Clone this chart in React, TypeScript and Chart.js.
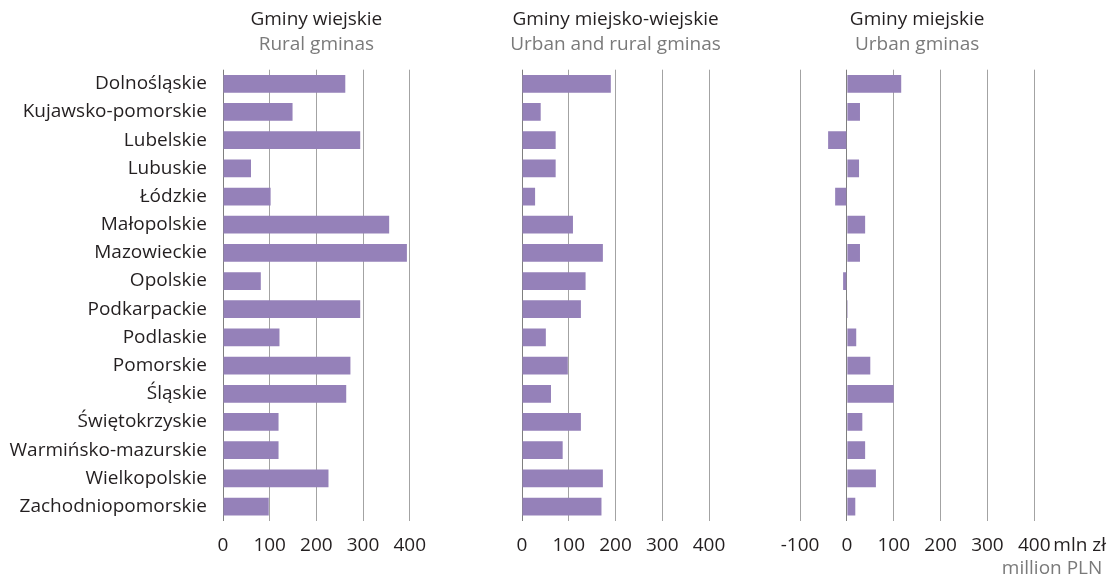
import React, { useEffect, useRef } from 'react';
import { Chart, registerables } from 'chart.js';

Chart.register(...registerables);

const FONT = "'Open Sans', 'Noto Sans', sans-serif";
Chart.defaults.font.family = FONT;

// ---- data ----
const regions = [
  'Dolnośląskie',
  'Kujawsko-pomorskie',
  'Lubelskie',
  'Lubuskie',
  'Łódzkie',
  'Małopolskie',
  'Mazowieckie',
  'Opolskie',
  'Podkarpackie',
  'Podlaskie',
  'Pomorskie',
  'Śląskie',
  'Świętokrzyskie',
  'Warmińsko-mazurskie',
  'Wielkopolskie',
  'Zachodniopomorskie',
];

const ruralValues = [262, 149, 294, 60, 102, 356, 394, 81, 294, 121, 273, 264, 119, 119, 226, 98];
const urbanRuralValues = [190, 40, 72, 72, 28, 109, 173, 136, 126, 51, 98, 62, 126, 87, 173, 170];
const urbanValues = [116, 28, -40, 26, -25, 39, 28, -8, 2, 20, 50, 100, 33, 39, 62, 18];

const panelTitles = ['Gminy wiejskie', 'Gminy miejsko-wiejskie', 'Gminy miejskie'];
const panelSubtitles = ['Rural gminas', 'Urban and rural gminas', 'Urban gminas'];
const axisMins = [0, 0, -100];
const axisMaxs = [400, 400, 400];
const tickStep = 100;
const unitLabel = 'mln zł';
const unitLabelEn = 'million PLN';

const BAR = '#9581b9';
const TEXT = '#231f20';
const SUBTEXT = '#7a7a7a';
const FS = 19;

// Panel titles drawn centred over each plot area (no width compression)
const titlePlugin = {
  id: 'panelTitles',
  afterDraw(chart: any, _args: any, opts: any) {
    if (!opts) return;
    const { ctx, chartArea } = chart;
    const cx = (chartArea.left + chartArea.right) / 2;
    ctx.save();
    ctx.textAlign = 'center';
    ctx.textBaseline = 'middle';
    ctx.font = `${FS}px ${FONT}`;
    ctx.fillStyle = TEXT;
    ctx.fillText(opts.title, cx, chartArea.top - 49.7);
    ctx.fillStyle = SUBTEXT;
    ctx.fillText(opts.subtitle, cx, chartArea.top - 24.7);
    ctx.restore();
  },
};

const unitPlugin = {
  id: 'unitLabels',
  afterDraw(chart: any, _args: any, opts: any) {
    if (!opts || !opts.show) return;
    const xs = chart.scales.x;
    const ctx = chart.ctx;
    const p = xs.getPixelForValue(axisMaxs[2]);
    ctx.save();
    ctx.textBaseline = 'middle';
    ctx.font = `${FS}px ${FONT}`;
    ctx.fillStyle = TEXT;
    ctx.textAlign = 'left';
    ctx.fillText(unitLabel, p + 19, xs.top + 25.4);
    ctx.fillStyle = SUBTEXT;
    ctx.textAlign = 'right';
    ctx.fillText(unitLabelEn, p + 68, xs.top + 48);
    ctx.restore();
  },
};

type PanelProps = {
  idx: number;
  left: number;
  width: number;
  padLeft: number;
  padRight: number;
  yWidth: number;
  showLabels: boolean;
  values: number[];
  showUnit: boolean;
};

function Panel(props: PanelProps) {
  const ref = useRef<HTMLCanvasElement | null>(null);
  useEffect(() => {
    if (!ref.current) return;
    const chart = new Chart(ref.current, {
      type: 'bar',
      data: {
        labels: regions,
        datasets: [
          {
            data: props.values,
            backgroundColor: BAR,
            barPercentage: 0.63,
            categoryPercentage: 1,
          },
        ],
      },
      plugins: [titlePlugin, unitPlugin],
      options: {
        indexAxis: 'y',
        responsive: false,
        animation: false,
        devicePixelRatio: 1,
        layout: { padding: { left: props.padLeft, right: props.padRight, top: 69.7, bottom: 0 } },
        plugins: {
          legend: { display: false },
          tooltip: { enabled: false },
          title: { display: false },
          subtitle: { display: false },
          panelTitles: { title: panelTitles[props.idx], subtitle: panelSubtitles[props.idx] },
          unitLabels: { show: props.showUnit },
        } as any,
        scales: {
          x: {
            type: 'linear',
            min: axisMins[props.idx],
            max: axisMaxs[props.idx],
            position: 'bottom',
            ticks: { stepSize: tickStep, color: TEXT, font: { size: FS }, padding: 14 },
            grid: {
              drawTicks: false,
              lineWidth: 1,
              color: (c: any) => (c.tick && c.tick.value === 0 ? '#7f7f7f' : '#a3a3a3'),
            },
            border: { display: false },
            afterFit: (s: any) => {
              s.height = 57.4;
            },
          },
          y: {
            display: props.showLabels,
            grid: { display: false, drawTicks: false },
            border: { display: false },
            ticks: { padding: 16, color: TEXT, font: { size: FS } },
            afterFit: (s: any) => {
              s.width = props.yWidth;
            },
          },
        },
      } as any,
    });
    return () => chart.destroy();
  }, []);
  return (
    <canvas
      ref={ref}
      width={props.width}
      height={578}
      style={{ position: 'absolute', left: props.left, top: 0, width: props.width, height: 578 }}
    />
  );
}

export default function App() {
  return (
    <div style={{ position: 'absolute', left: 0, top: 0, width: 1111, height: 578, background: '#fff' }}>
      <Panel idx={0} left={0} width={440} padLeft={0} padRight={29.3} yWidth={223} showLabels={true} values={ruralValues} showUnit={false} />
      <Panel idx={1} left={480} width={260} padLeft={42} padRight={31} yWidth={0} showLabels={false} values={urbanRuralValues} showUnit={false} />
      <Panel idx={2} left={760} width={351} padLeft={40} padRight={76.7} yWidth={0} showLabels={false} values={urbanValues} showUnit={true} />
    </div>
  );
}
